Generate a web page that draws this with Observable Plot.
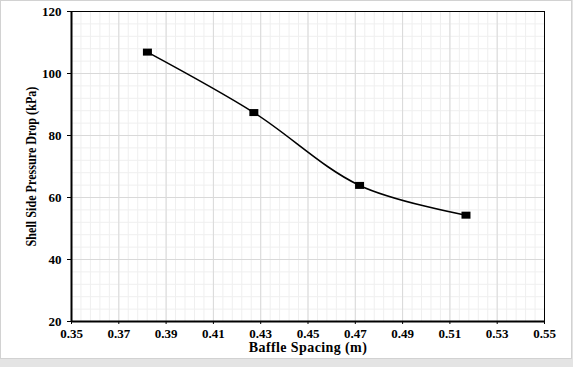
<!DOCTYPE html>
<html>
<head>
<meta charset="utf-8">
<script src="https://cdn.jsdelivr.net/npm/d3@7"></script>
<script src="https://cdn.jsdelivr.net/npm/@observablehq/plot@0.6"></script>
<style>
  html, body { margin: 0; padding: 0; background: #e4e4e4; }
  #frame { position: absolute; left: 0; top: 0; width: 570px; height: 357px; border: 1px solid #d2d2d2; background: #fff; }
  #frame svg { display: block; }
</style>
</head>
<body>
<div id="frame"></div>
<script>
const spacing = [0.3821, 0.4271, 0.4718, 0.5168];
const pressureDrop = [106.9, 87.4, 63.9, 54.3];
const xTicks = [0.35, 0.37, 0.39, 0.41, 0.43, 0.45, 0.47, 0.49, 0.51, 0.53, 0.55];
const yTicks = [20, 40, 60, 80, 100, 120];
const xLabel = "Baffle Spacing (m)";
const yLabel = "Shell Side Pressure Drop (kPa)";

const data = spacing.map((x, i) => ({x, y: pressureDrop[i]}));
const xMinor = d3.range(0, 51).map(i => 0.35 + i * 0.004);
const yMinor = d3.range(0, 26).map(i => 20 + i * 4);

const rectSymbol = { draw(ctx) { ctx.rect(-4.5, -3.5, 9, 7); } };
const font = "'Liberation Serif', 'Times New Roman', serif";

const chart = Plot.plot({
  width: 570,
  height: 357,
  marginLeft: 70,
  marginRight: 27,
  marginTop: 10,
  marginBottom: 37,
  style: { fontFamily: font, fontWeight: "bold", fontSize: "12px", background: "#fff", color: "#000" },
  x: { domain: [0.35, 0.55] },
  y: { domain: [20, 120] },
  marks: [
    Plot.ruleX(xMinor, { stroke: "#efefef", strokeWidth: 1 }),
    Plot.ruleY(yMinor, { stroke: "#efefef", strokeWidth: 1 }),
    Plot.ruleX(xTicks, { stroke: "#d9d9d9", strokeWidth: 1 }),
    Plot.ruleY(yTicks, { stroke: "#d9d9d9", strokeWidth: 1 }),
    Plot.ruleY([120], { stroke: "#000", strokeWidth: 1 }),
    Plot.ruleX([0.55], { stroke: "#000", strokeWidth: 1 }),
    Plot.ruleX([0.35], { stroke: "#000", strokeWidth: 2 }),
    Plot.ruleY([20], { stroke: "#000", strokeWidth: 2 }),
    Plot.axisX({ ticks: xTicks, tickFormat: d3.format(".2f"), tickSize: 3, tickPadding: 4, label: null, fontSize: 13, fontWeight: "bold" }),
    Plot.axisY({ ticks: yTicks, tickSize: 4, tickPadding: 6, label: null, fontSize: 13, fontWeight: "bold" }),
    Plot.line(data, { x: "x", y: "y", curve: "catmull-rom", stroke: "#000", strokeWidth: 1.6 }),
    Plot.dot(data, { x: "x", y: "y", symbol: rectSymbol, fill: "#000", stroke: "none" }),
    Plot.text([xLabel], { frameAnchor: "bottom", dy: 26, fontSize: 14, fontWeight: "bold", lineAnchor: "middle", className: "xlab" }),
    Plot.text([yLabel], { frameAnchor: "left", textAnchor: "middle", dx: -40, rotate: -90, fontSize: 14, fontWeight: "bold", lineAnchor: "middle", className: "ylab" })
  ]
});
document.getElementById("frame").appendChild(chart);
d3.select(chart).selectAll(".xlab text").style("letter-spacing", "0.4px");
d3.select(chart).selectAll(".ylab text").each(function() {
  const el = d3.select(this);
  const len = this.getComputedTextLength();
  const s = 160 / len;
  el.attr("transform", (el.attr("transform") || "") + ` scale(${s},1)`);
});
</script>
</body>
</html>
